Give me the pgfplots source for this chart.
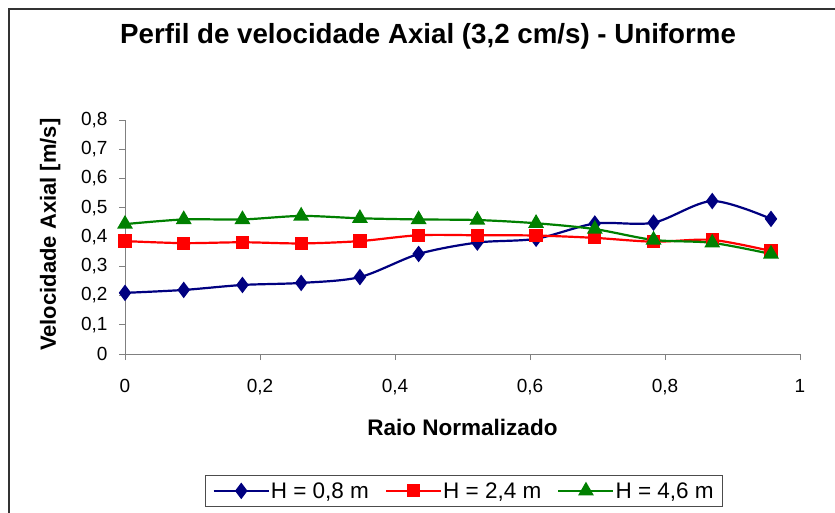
\documentclass[border=0pt]{standalone}
\usepackage{fontspec}
\setmainfont{Liberation Sans}
\usepackage{pgfplots}
\pgfplotsset{compat=1.18}
\definecolor{navyb}{RGB}{0,0,128}
\definecolor{redr}{RGB}{255,0,0}
\definecolor{greeng}{RGB}{0,128,0}
\definecolor{axgray}{RGB}{128,128,128}
\begin{document}
\begin{tikzpicture}
\useasboundingbox (0pt,0pt) rectangle (835pt,512pt);
\draw[line width=1.5pt, black!80] (9pt,-5pt) -- (9pt,503pt) -- (840pt,503pt);
\begin{axis}[
  at={(125pt,158pt)}, anchor=south west,
  scale only axis, width=675pt, height=234pt,
  xmin=0, xmax=1, ymin=0, ymax=0.8,
  axis x line*=bottom, axis y line*=left,
  axis line style={axgray, line width=1pt},
  xtick={0,0.2,0.4,0.6,0.8,1}, ytick={0,0.1,0.2,0.3,0.4,0.5,0.6,0.7,0.8},
  tick align=outside, major tick length=6pt,
  tick style={axgray, line width=1pt},
  /pgf/number format/assume math mode=true,
  /pgf/number format/use comma, /pgf/number format/fixed,
  ticklabel style={font=\fontsize{19}{19}\selectfont},
  xticklabel style={yshift=-16pt},
  yticklabel style={xshift=-8pt},
  title={\bfseries Perfil de velocidade Axial (3,2 cm/s) - Uniforme},
  title style={font=\fontsize{27.7}{28}\selectfont, at={(rel axis cs:0.449,1.333)}, anchor=center},
  xlabel={\bfseries Raio Normalizado},
  xlabel style={font=\fontsize{22.5}{23}\selectfont, at={(rel axis cs:0.5,-0.316)}, anchor=center},
  ylabel={\bfseries Velocidade Axial [m/s]},
  ylabel style={font=\fontsize{22}{22}\selectfont, at={(rel axis cs:-0.111,0.51)}, anchor=center, rotate=0},
  legend columns=3,
  legend style={at={(rel axis cs:0.5025,-0.585)}, anchor=center, draw=black!70, line width=0.8pt,
     font=\fontsize{22.5}{23}\selectfont, inner xsep=7pt, inner ysep=5pt,
     /tikz/every even column/.append style={column sep=14pt},
     /tikz/every odd column/.append style={column sep=-1pt}},
  legend image code/.code={\draw[#1] (0pt,0pt) -- (55pt,0pt); \draw[#1, only marks] plot coordinates {(27.5pt,0pt)};},
  clip=false,
]
\addplot[navyb, line width=2.2pt, smooth, tension=0.5, mark=diamond*, mark size=6.5pt, mark options={solid, fill=navyb}] coordinates {
(0,0.209) (0.087,0.219) (0.174,0.236) (0.261,0.243) (0.348,0.263) (0.435,0.342)
(0.522,0.381) (0.609,0.394) (0.696,0.446) (0.783,0.449) (0.870,0.523) (0.957,0.462)};
\addlegendentry{H = 0,8 m}
\addplot[redr, line width=2.2pt, smooth, tension=0.5, mark=square*, mark size=5.5pt, mark options={solid, fill=redr}] coordinates {
(0,0.386) (0.087,0.379) (0.174,0.382) (0.261,0.378) (0.348,0.386) (0.435,0.406)
(0.522,0.406) (0.609,0.405) (0.696,0.397) (0.783,0.384) (0.870,0.390) (0.957,0.352)};
\addlegendentry{H = 2,4 m}
\addplot[greeng, line width=2.2pt, smooth, tension=0.5, mark=triangle*, mark size=7pt, mark options={solid, fill=greeng}] coordinates {
(0,0.444) (0.087,0.460) (0.174,0.460) (0.261,0.472) (0.348,0.464) (0.435,0.460)
(0.522,0.458) (0.609,0.447) (0.696,0.427) (0.783,0.390) (0.870,0.380) (0.957,0.342)};
\addlegendentry{H = 4,6 m}
\end{axis}
\end{tikzpicture}
\end{document}
